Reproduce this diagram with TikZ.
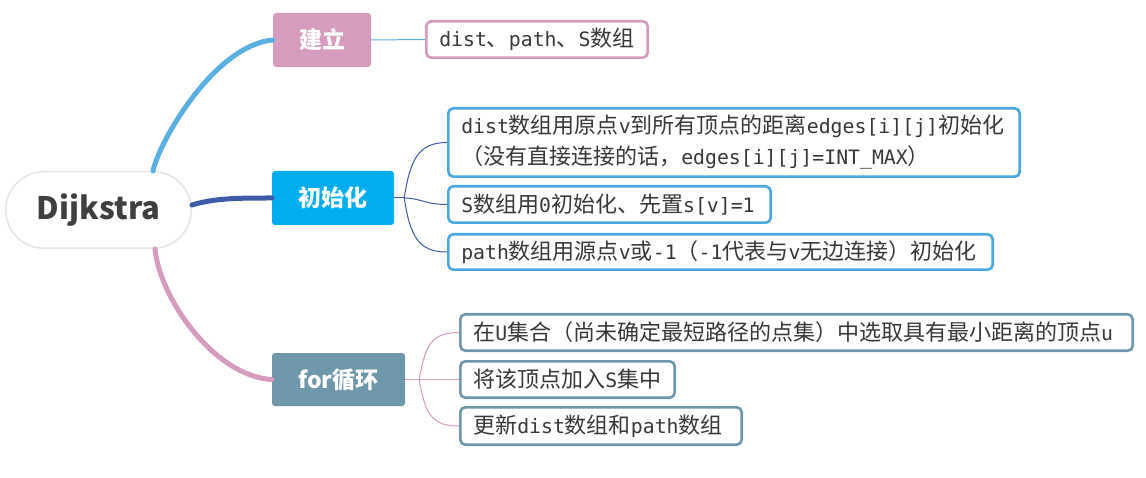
\documentclass[tikz,border=0pt]{standalone}
\usepackage{fontspec}
\setmainfont{Noto Sans CJK SC}
\newfontfamily\monof{DejaVu Sans Mono}[Scale=0.9]
\newcommand\Mo[1]{{\monof #1}}
\definecolor{pinkC}{HTML}{D59CBE}
\definecolor{cyanC}{HTML}{00AEEF}
\definecolor{leafBlue}{HTML}{4AA8DE}
\definecolor{slateC}{HTML}{6E97AA}
\definecolor{curveBlue}{HTML}{5AB1E1}
\definecolor{darkBlue}{HTML}{3E5BA7}
\definecolor{txt}{HTML}{383838}
\definecolor{rootTxt}{HTML}{3F3F3F}
\tikzset{
  rootbox/.style={draw=black!10, line width=1.5pt, fill=white, rounded corners=38pt,
    minimum width=185.5pt, minimum height=76.5pt, inner sep=0pt, text=rootTxt,
    font=\fontsize{31}{36}\selectfont\bfseries},
  mainbox/.style={rounded corners=3pt, inner sep=0pt, text=white,
    font=\fontsize{23}{28}\selectfont\bfseries},
  leaf/.style={line width=2.6pt, rounded corners=5pt, fill=white, inner xsep=13pt,
    inner ysep=0pt, align=left, text=txt, font=\fontsize{22}{31}\selectfont},
  thick curve/.style={line width=5pt, line cap=round},
  thin link/.style={line width=1pt}
}
\begin{document}
\begin{tikzpicture}[x=1pt,y=-1pt]
\useasboundingbox (0,0) rectangle (1146,478);
% root and main nodes
\node[rootbox] (root) at (98.5,210) {Dijkstra};
\node[mainbox, fill=pinkC, minimum width=98pt, minimum height=54pt] (jl) at (322,40) {建立};
\node[mainbox, fill=cyanC, minimum width=122pt, minimum height=54pt] (init) at (333,198) {初始化};
\node[mainbox, fill=slateC, minimum width=133pt, minimum height=53pt] (loop) at (338.5,379.5) {for循环};
% leaves
\node[leaf, draw=pinkC, text width=195.4pt, minimum height=36.4pt] (a1) at (537,39.5)
  {\mbox{\Mo{dist}、\Mo{path}、\Mo{S}数组}};
\node[leaf, draw=leafBlue, text width=545.4pt, minimum height=68.4pt] (b1) at (734,142.5)
  {\mbox{\Mo{dist}数组用原点\Mo{v}到所有顶点的距离\Mo{edges[i][j]}初始化}\\
   \mbox{（没有直接连接的话，\Mo{edges[i][j]=INT\_MAX}）}};
\node[leaf, draw=leafBlue, text width=296.4pt, minimum height=36.4pt] (b2) at (609.5,204.5)
  {\mbox{\Mo{S}数组用\Mo{0}初始化、先置\Mo{s[v]=1}}};
\node[leaf, draw=leafBlue, text width=518.4pt, minimum height=35.4pt] (b3) at (720.5,252)
  {\mbox{\Mo{path}数组用源点\Mo{v}或\Mo{-1}（\Mo{-1}代表与\Mo{v}无边连接）初始化}};
\node[leaf, draw=slateC, text width=646.4pt, minimum height=36.4pt] (c1) at (796.5,332.5)
  {\mbox{在\Mo{U}集合（尚未确定最短路径的点集）中选取具有最小距离的顶点\Mo{u}}};
\node[leaf, draw=slateC, text width=188.4pt, minimum height=36.4pt] (c2) at (567.5,379.5)
  {\mbox{将该顶点加入\Mo{S}集中}};
\node[leaf, draw=slateC, text width=255.4pt, minimum height=37.4pt] (c3) at (601,426)
  {\mbox{更新\Mo{dist}数组和\Mo{path}数组}};
% main branches
\draw[thick curve, curveBlue] ([xshift=-39pt]root.north east) .. controls +(7,-32) and +(-57,5) .. (jl.west);
\draw[thick curve, darkBlue] ([yshift=5pt]root.east) .. controls +(23,-7) and +(-32,0) .. (init.west);
\draw[thick curve, pinkC] ([xshift=-37pt]root.south east) .. controls +(5,50) and +(-57,-3) .. (loop.west);
% sub branches
\draw[thin link, curveBlue] (jl.east) -- (a1.west);
\coordinate (f2) at ([xshift=10pt]init.east);
\draw[thin link, darkBlue] (init.east) -- (f2);
\draw[thin link, darkBlue] (f2) .. controls +(6,-38) and +(-29,0) .. (b1.west);
\draw[thin link, darkBlue] (f2) .. controls +(16,0) and +(-22,0) .. (b2.west);
\draw[thin link, darkBlue] (f2) .. controls +(6,38) and +(-29,0) .. (b3.west);
\coordinate (f3) at ([xshift=14pt]loop.east);
\draw[thin link, pinkC] (loop.east) -- (f3);
\draw[thin link, pinkC] (f3) .. controls +(6,-35) and +(-27,0) .. (c1.west);
\draw[thin link, pinkC] (f3) -- (c2.west);
\draw[thin link, pinkC] (f3) .. controls +(6,35) and +(-27,0) .. (c3.west);
\end{tikzpicture}
\end{document}
